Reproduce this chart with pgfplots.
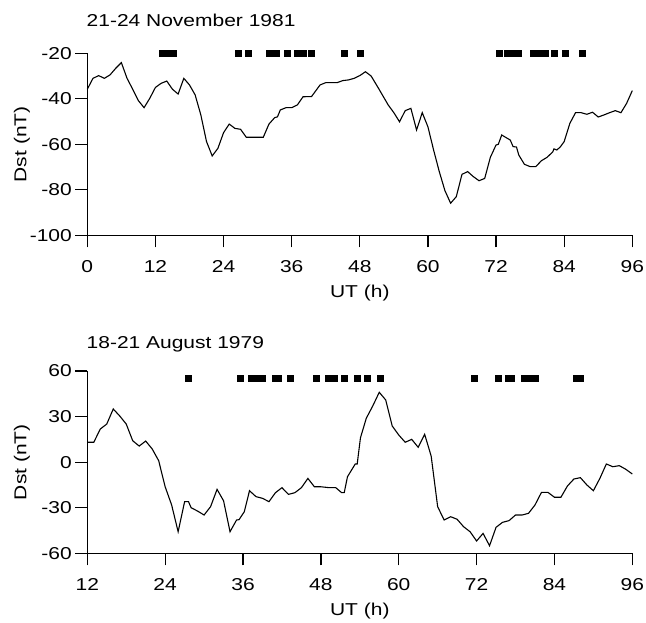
\documentclass[border=0pt]{standalone}
\usepackage{pgfplots}
\pgfplotsset{compat=1.18}
\usepackage{fontspec}
\setmainfont{Liberation Sans}[FakeStretch=1.22]
\newcommand{\lbl}{\fontsize{17.2}{20}\selectfont}
\begin{document}
\begin{tikzpicture}
\path[use as bounding box] (0pt,0pt) rectangle (646pt,-622pt);
\pgfplotsset{
  myax/.style={
    scale only axis,
    width=545pt,
    axis lines=left,
    axis line style={-, line width=1.3pt},
    tick style={line width=1.3pt, black},
    tick align=outside,
    major tick length=12pt,
    clip=false,
    /pgf/number format/assume math mode=true,
    ticklabel style={font=\lbl},
    label style={font=\lbl},
    xlabel={UT (h)},
    ylabel={Dst (nT)},
    yticklabel style={anchor=east},
    xticklabel style={anchor=north, yshift=-10pt},
  }
}
\begin{axis}[myax,
  at={(87.3pt,-235.3pt)}, anchor=south west,
  height=182pt,
  xmin=0, xmax=96, ymin=-100, ymax=-20,
  xtick={0,12,...,96},
  ytick={-100,-80,-60,-40,-20},
  xlabel style={at={(axis description cs:0.5,-0.316)},anchor=center},
  ylabel style={at={(axis description cs:-0.1198,0.5)},anchor=center},
]
\addplot[black, line width=1.1pt, mark=none] coordinates {
(0,-35.8) (1,-31) (2,-29.8) (3,-31) (4,-29.5) (5,-26.6) (6,-24.1) (7,-31)
(8,-35.8) (9,-40.8) (10,-43.9) (11,-39.8) (12,-35) (13,-33.2) (14,-32.2)
(15,-35.8) (16,-37.9) (17,-31) (18,-33.9) (19,-38.3) (20,-47.1) (21,-58.8)
(22,-65.1) (23,-61.8) (24,-54.9) (25,-51.1) (26,-53) (27,-53.4) (28,-56.9)
(29,-56.9) (30,-56.9) (31,-56.9) (32,-51.1) (33,-48.3) (33.5,-47.9) (34,-44.9)
(35,-43.9) (36,-43.9) (37,-42.7) (38,-39.1) (39.5,-39) (41,-33.9) (42,-32.9)
(44,-32.9) (45,-32) (46,-31.7) (47,-31) (48,-29.8) (49,-28.1) (50,-30)
(51.3,-35.4) (53,-42.7) (54,-46.1) (55,-50.1) (56,-45.2) (57,-44.2) (58,-53.7)
(59,-46.1) (60,-52.3) (61,-62.5) (62,-72) (63,-80.4) (64,-85.9) (65,-83)
(66,-73.2) (67,-72) (68,-74.2) (69,-76) (70,-75) (71,-65.7) (72,-60.3)
(72.4,-60) (73,-55.9) (74,-57.4) (74.5,-58.1) (75,-61) (75.6,-61.2) (76,-64.7)
(77,-68.8) (78,-69.8) (79,-69.8) (80,-67.2) (81,-65.7) (82,-63.3) (82.2,-62)
(82.7,-62.5) (83.3,-61.2) (84,-58.8) (85,-50.8) (86,-46.1) (87,-46.1)
(88,-46.8) (89,-45.9) (90,-48) (91,-47.1) (92,-46.1) (93,-45.2) (94,-46.1)
(95,-42) (96,-36.4)
};
\addplot[only marks, mark=square*, mark size=3pt, black] coordinates {
(13.2,-20) (14.2,-20) (15.2,-20) (26.5,-20) (28.3,-20) (32.0,-20) (33.3,-20)
(35.2,-20) (36.9,-20) (38.1,-20) (39.4,-20) (45.2,-20) (48.1,-20) (72.5,-20)
(73.9,-20) (74.9,-20) (75.9,-20) (78.5,-20) (79.6,-20) (80.7,-20) (82.2,-20)
(84.2,-20) (87.2,-20)
};
\end{axis}
\begin{axis}[myax,
  at={(87.3pt,-553.3pt)}, anchor=south west,
  height=182.3pt,
  xmin=12, xmax=96, ymin=-60, ymax=60,
  xtick={12,24,...,96},
  ytick={-60,-30,0,30,60},
  xlabel style={at={(axis description cs:0.5,-0.3154)},anchor=center},
  ylabel style={at={(axis description cs:-0.1198,0.5)},anchor=center},
]
\addplot[black, line width=1.1pt, mark=none] coordinates {
(12,13.1) (13,13.1) (14,21.8) (15,25.1) (16,35) (17,30.4) (18,25.1) (19,14.1)
(20,10.6) (21,13.9) (22,8.7) (23,1.0) (24,-16.2) (25,-28.2) (26,-45.8) (27,-26)
(27.6,-26) (28,-30) (29,-32.2) (30,-34.8) (31,-29.3) (32,-17.9) (33,-25.4)
(34,-45.8) (35,-38.1) (35.4,-37.8) (36.2,-32.6) (37,-18.8) (38,-22.7) (39,-23.8)
(40,-26) (41,-20.1) (42,-16.8) (43,-21.2) (44,-20.1) (45,-16.8) (46,-10.7)
(47,-16.2) (48,-16.2) (49.3,-16.8) (50.3,-16.8) (51.2,-20.1) (51.6,-20.1)
(52.1,-9.6) (52.8,-4.7) (53.3,-1.2) (53.6,-1.2) (54.1,16) (55,28.9) (56,37)
(57,46) (58,40.9) (59,23.8) (60,17.9) (61,13.1) (62,15) (63,9.8) (64,18.3)
(65,4) (66,-29.3) (67,-38.1) (68,-35.9) (69,-37.6) (70,-42.5) (71,-45.8)
(72,-51.9) (73,-46.9) (74,-55) (75,-42.9) (76,-39.6) (77,-38.5) (78,-34.8)
(79,-34.8) (80,-33.7) (81,-28.2) (82,-19.9) (83,-19.9) (84,-23.1) (85,-23.1)
(86,-15.7) (87,-11.1) (88,-10.2) (89,-15) (90,-18.8) (91,-10.7) (92,-1.2)
(93,-3) (94,-2.3) (95,-4.7) (96,-7.8)
};
\addplot[only marks, mark=square*, mark size=3pt, black] coordinates {
(27.6,55) (35.5,55) (37.3,55) (38.1,55) (38.9,55) (41.0,55) (41.4,55)
(43.3,55) (47.3,55) (49.1,55) (50.0,55) (51.6,55) (53.6,55) (55.2,55)
(57.1,55) (71.6,55) (75.3,55) (76.9,55) (77.4,55) (79.3,55) (80.2,55)
(81.1,55) (87.4,55) (88.0,55)
};
\end{axis}
\node[anchor=base west, inner sep=0pt, font=\lbl] at (86.5pt,-26.7pt) {21-24 November 1981};
\node[anchor=base west, inner sep=0pt, font=\lbl] at (86.5pt,-348.3pt) {18-21 August 1979};
\end{tikzpicture}
\end{document}
